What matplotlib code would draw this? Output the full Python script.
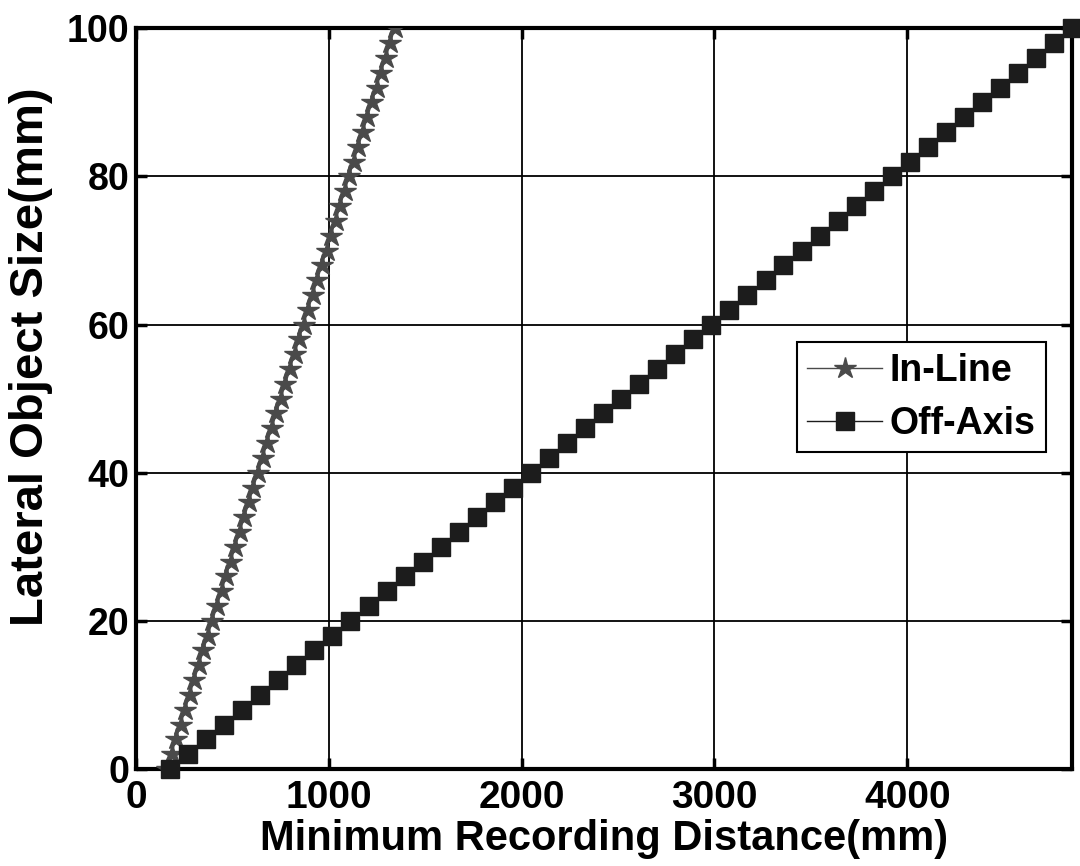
import numpy as np
import matplotlib
matplotlib.use("Agg")
import matplotlib.pyplot as plt

# lateral object size (mm), shared by both series
size_mm = [0, 2, 4, 6, 8, 10, 12, 14, 16, 18, 20, 22, 24, 26, 28, 30, 32, 34,
           36, 38, 40, 42, 44, 46, 48, 50, 52, 54, 56, 58, 60, 62, 64, 66, 68,
           70, 72, 74, 76, 78, 80, 82, 84, 86, 88, 90, 92, 94, 96, 98, 100]

# minimum recording distance (mm)
inline_dist = [160, 184, 207, 231, 255, 278, 302, 326, 349, 373, 396, 420, 444,
               467, 491, 515, 538, 562, 586, 609, 633, 657, 680, 704, 728, 751,
               775, 799, 822, 846, 869, 893, 917, 940, 964, 988, 1011, 1035,
               1059, 1082, 1106, 1129, 1153, 1177, 1200, 1224, 1248, 1271, 1295,
               1319, 1342]
offaxis_dist = [176, 270, 363, 457, 550, 644, 738, 831, 925, 1018, 1112, 1206,
                1299, 1393, 1486, 1580, 1674, 1767, 1861, 1954, 2048, 2142,
                2235, 2329, 2422, 2516, 2610, 2703, 2797, 2890, 2984, 3078,
                3171, 3265, 3358, 3452, 3546, 3639, 3733, 3826, 3920, 4014,
                4107, 4201, 4294, 4388, 4482, 4575, 4669, 4762, 4856]

xticks = [0, 1000, 2000, 3000, 4000]
yticks = [0, 20, 40, 60, 80, 100]

fam = ['Liberation Sans', 'DejaVu Sans']

fig = plt.figure(figsize=(10.8, 8.66), dpi=100)
ax = fig.add_axes([0.126, 0.112, 0.8668, 0.8553])

ax.plot(inline_dist, size_mm, color='#4a4a4a', lw=1.0, marker='*',
        markersize=16, markeredgecolor='#4a4a4a', markerfacecolor='#4a4a4a',
        label='In-Line', zorder=3)
ax.plot(offaxis_dist, size_mm, color='#1c1c1c', lw=1.0, marker='s',
        markersize=12.5, markeredgecolor='#1c1c1c', markerfacecolor='#1c1c1c',
        label='Off-Axis', zorder=3, clip_on=False)

ax.set_xlim(0, max(offaxis_dist))
ax.set_ylim(0, 100)
ax.set_xticks(xticks)
ax.set_yticks(yticks)
ax.grid(True, color='black', lw=1.3, ls='-')
ax.set_axisbelow(True)

for s in ax.spines.values():
    s.set_linewidth(3)

ax.tick_params(direction='in', length=8, width=2.5, top=True, right=True)
ax.tick_params(axis='x', pad=8)
ax.tick_params(axis='y', pad=5)
for t in ax.get_xticklabels():
    t.set_family(fam)
    t.set_fontweight('bold')
    t.set_fontsize(28)
for t in ax.get_yticklabels():
    t.set_family(fam)
    t.set_fontweight('bold')
    t.set_fontsize(27)

ax.set_xlabel('Minimum Recording Distance(mm)', family=fam,
              fontweight='bold', fontsize=30, labelpad=2)
ax.set_ylabel('Lateral Object Size(mm)', family=fam,
              fontweight='bold', fontsize=34)
ax.yaxis.set_label_coords(-0.089, 0.557)

leg = ax.legend(loc='upper left', bbox_to_anchor=(0.706, 0.576),
                prop={'family': fam, 'weight': 'bold', 'size': 27},
                fancybox=False, framealpha=1, edgecolor='black',
                handlelength=2.0, borderpad=0.28, labelspacing=0.45,
                handletextpad=0.2, borderaxespad=0)
leg.get_frame().set_linewidth(1.5)

fig.savefig('out.png', dpi=100)
